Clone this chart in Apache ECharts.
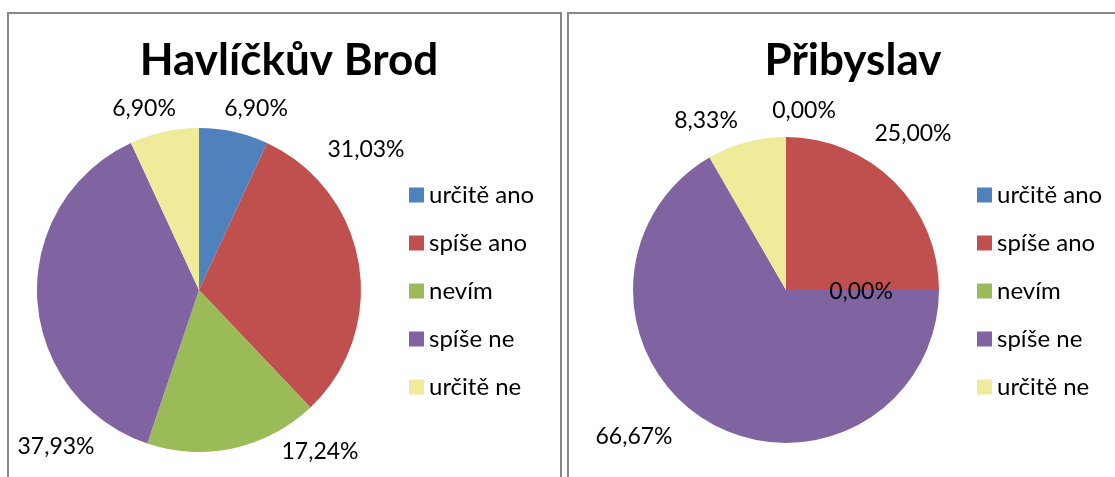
<!DOCTYPE html>
<html>
<head>
<meta charset="utf-8">
<script src="https://cdn.jsdelivr.net/npm/echarts@6/dist/echarts.min.js"></script>
<style>
  html, body { margin: 0; padding: 0; background: #fff; }
  #chart { width: 1115px; height: 477px; }
</style>
</head>
<body>
<div id="chart"></div>
<script>
// data
var categories = ['určitě ano', 'spíše ano', 'nevím', 'spíše ne', 'určitě ne'];
var brodValues = [6.90, 31.03, 17.24, 37.93, 6.90];
var pribyslavValues = [0.00, 25.00, 0.00, 66.67, 8.33];
var titles = ['Havlíčkův Brod', 'Přibyslav'];

// layout / style
var colors = ['#4F81BD', '#C0504D', '#9BBB59', '#8064A2', '#EEEC9A'];
var font = 'Lato, "Open Sans", sans-serif';
// where Excel put the data labels (label centres, px)
var brodLabelPos = [[256, 109], [366, 150], [320, 452], [56, 447], [144, 109]];
var pribyslavLabelPos = [[804, 111], [913, 134], [861, 292], [634, 437], [706, 121]];

function toData(values) {
  var out = [];
  for (var i = 0; i < values.length; ++i) {
    out.push({ name: categories[i], value: values[i] });
  }
  return out;
}

function fmtPct(p) {
  return p.value.toFixed(2).replace('.', ',') + '%';
}

function pieSeries(values, center, radius, labelPos) {
  return {
    type: 'pie',
    center: center,
    radius: radius,
    startAngle: 90,
    clockwise: true,
    avoidLabelOverlap: false,
    stillShowZeroSum: true,
    itemStyle: { borderWidth: 0 },
    emphasis: { disabled: true },
    label: {
      show: true,
      position: 'outside',
      formatter: fmtPct,
      fontFamily: font,
      fontSize: 23,
      color: '#000'
    },
    labelLine: { show: false },
    labelLayout: function (params) {
      var p = labelPos[params.dataIndex];
      return { x: p[0], y: p[1], align: 'center', verticalAlign: 'middle' };
    },
    data: toData(values)
  };
}

function legend(left) {
  return {
    orient: 'vertical',
    left: left,
    top: 178,
    icon: 'rect',
    itemWidth: 15,
    itemHeight: 15,
    itemGap: 24,
    selectedMode: false,
    textStyle: { fontFamily: font, fontSize: 24, color: '#000' },
    data: categories
  };
}

var chart = echarts.init(document.getElementById('chart'), null, { renderer: 'canvas' });

var titleStyle = { fontFamily: font, fontWeight: 'bold', fontSize: 44, color: '#000' };

var option = {
  backgroundColor: '#fff',
  animation: false,
  color: colors,
  title: [
    { text: titles[0], left: 284, top: 34, textAlign: 'center', textStyle: titleStyle },
    { text: titles[1], left: 848, top: 34, textAlign: 'center', textStyle: titleStyle }
  ],
  legend: [legend(404), legend(972)],
  graphic: [
    {
      type: 'rect', silent: true, z: -1,
      shape: { x: 8, y: 13, width: 553, height: 500 },
      style: { fill: 'none', stroke: '#878787', lineWidth: 2 }
    },
    {
      type: 'rect', silent: true, z: -1,
      shape: { x: 568, y: 13, width: 560, height: 500 },
      style: { fill: 'none', stroke: '#878787', lineWidth: 2 }
    }
  ],
  series: [
    pieSeries(brodValues, [199, 290], 162, brodLabelPos),
    pieSeries(pribyslavValues, [786, 290], 153, pribyslavLabelPos)
  ]
};

chart.setOption(option);
</script>
</body>
</html>
